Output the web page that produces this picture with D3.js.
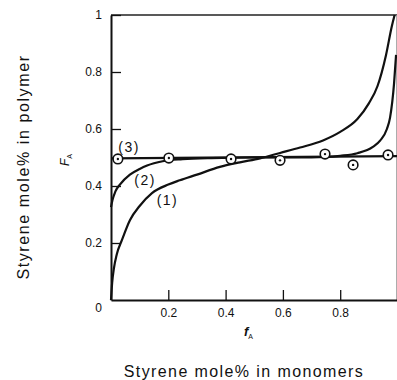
<!DOCTYPE html>
<html>
<head>
<meta charset="utf-8">
<script src="https://cdn.jsdelivr.net/npm/d3@7"></script>
<style>
  html, body { margin: 0; padding: 0; background: #fff; }
  svg text { font-family: "Liberation Sans", Arial, sans-serif; fill: #111; }
</style>
</head>
<body>
<div id="chart"></div>
<script>
// composition curves, [f_A, F_A]
const curve1 = [[0,0],[0.004,0.06],[0.01,0.11],[0.02,0.16],[0.038,0.21],[0.066,0.28],[0.1,0.33],[0.143,0.375],
  [0.2,0.405],[0.24,0.42],[0.3,0.44],[0.38,0.467],[0.45,0.483],[0.52,0.497],[0.59,0.516],[0.66,0.535],
  [0.74,0.56],[0.8,0.59],[0.86,0.635],[0.9,0.69],[0.93,0.75],[0.96,0.86],[0.98,0.96],[0.99,1.0]];
const curve2 = [[0,0.326],[0.005,0.35],[0.015,0.38],[0.031,0.405],[0.066,0.44],[0.1,0.46],[0.126,0.472],
  [0.18,0.487],[0.25,0.494],[0.35,0.498],[0.5,0.5],[0.65,0.5],[0.75,0.502],[0.8,0.506],[0.86,0.515],
  [0.914,0.537],[0.94,0.56],[0.963,0.6],[0.974,0.64],[0.988,0.76],[0.995,0.86]];
const curve3 = [[0,0.497],[1,0.505]];

// measured points
const pointsF = [0.024, 0.202, 0.419, 0.59, 0.747, 0.845, 0.967];
const pointsFA = [0.495, 0.498, 0.495, 0.49, 0.512, 0.474, 0.509];

const curveLabels = ['(3)', '(2)', '(1)'];
const curveLabelPos = [[0.063, 0.537], [0.119, 0.421], [0.197, 0.351]];

const xTicks = [0.2, 0.4, 0.6, 0.8];
const yTicks = [0.2, 0.4, 0.6, 0.8, 1];

const width = 397, height = 380;
const margin = { left: 111, right: 0, top: 15, bottom: 80 };

const svg = d3.select('#chart').append('svg')
  .attr('width', width)
  .attr('height', height);

const x = d3.scaleLinear().domain([0, 1]).range([margin.left, 397.5]);
const y = d3.scaleLinear().domain([0, 1]).range([height - margin.bottom, margin.top]);

// frame
svg.append('line')
  .attr('x1', x(0)).attr('x2', x(1))
  .attr('y1', y(1)).attr('y2', y(1))
  .attr('stroke', '#222').attr('stroke-width', 1.6);
svg.append('line')
  .attr('x1', x(1) - 0.8).attr('x2', x(1) - 0.8)
  .attr('y1', y(1)).attr('y2', y(0))
  .attr('stroke', '#999').attr('stroke-width', 1);

// axes
const xAxis = svg.append('g')
  .attr('transform', `translate(0, ${y(0)})`)
  .call(d3.axisBottom(x).tickValues(xTicks).tickFormat(d3.format('.1f'))
    .tickSizeInner(-10).tickSizeOuter(0).tickPadding(8));
const yAxis = svg.append('g')
  .attr('transform', `translate(${x(0)}, 0)`)
  .call(d3.axisLeft(y).tickValues(yTicks).tickFormat(d => d === 1 ? '1' : d3.format('.1f')(d))
    .tickSizeInner(-10).tickSizeOuter(0).tickPadding(9));

[xAxis, yAxis].forEach(ax => {
  ax.select('.domain').attr('stroke', '#111').attr('stroke-width', 2);
  ax.selectAll('.tick line').attr('stroke', '#111').attr('stroke-width', 1.3);
  ax.selectAll('.tick text').attr('font-size', 12).style('font-family', '"Liberation Sans", Arial, sans-serif').attr('fill', '#111');
});

// origin label
svg.append('text')
  .attr('x', x(0) - 9).attr('y', y(0) + 12)
  .attr('text-anchor', 'end')
  .attr('font-size', 12)
  .text('0');

// curves
const line = d3.line()
  .x(d => x(d[0]))
  .y(d => y(d[1]))
  .curve(d3.curveMonotoneX);

[curve1, curve2, curve3].forEach(c => {
  svg.append('path')
    .datum(c)
    .attr('fill', 'none')
    .attr('stroke', '#111')
    .attr('stroke-width', 2.2)
    .attr('d', line);
});

// points
const pts = pointsF.map((f, i) => [f, pointsFA[i]]);
svg.selectAll('circle.pt')
  .data(pts)
  .enter().append('circle')
  .attr('class', 'pt')
  .attr('cx', d => x(d[0]))
  .attr('cy', d => y(d[1]))
  .attr('r', 4.8)
  .attr('fill', '#fff')
  .attr('stroke', '#111')
  .attr('stroke-width', 1.6);
svg.selectAll('circle.dot')
  .data(pts)
  .enter().append('circle')
  .attr('class', 'dot')
  .attr('cx', d => x(d[0]))
  .attr('cy', d => y(d[1]))
  .attr('r', 1.2)
  .attr('fill', '#111');

// curve labels
svg.selectAll('text.clabel')
  .data(curveLabels)
  .enter().append('text')
  .attr('class', 'clabel')
  .attr('x', (d, i) => x(curveLabelPos[i][0]))
  .attr('y', (d, i) => y(curveLabelPos[i][1]))
  .attr('text-anchor', 'middle')
  .attr('dominant-baseline', 'central')
  .attr('font-size', 14)
  .attr('letter-spacing', 1.5)
  .text(d => d);

// axis symbols
const fLab = svg.append('text')
  .attr('x', 244).attr('y', 336)
  .attr('font-size', 13)
  .attr('font-style', 'italic')
  .attr('font-weight', 'bold');
fLab.append('tspan').text('f');
fLab.append('tspan').attr('font-size', 7).attr('font-weight', 'normal').attr('font-style', 'normal').attr('dy', 3).text('A');

const FLab = svg.append('text')
  .attr('transform', 'translate(69, 166) rotate(-90)')
  .attr('font-size', 12)
  .attr('font-style', 'italic');
FLab.append('tspan').text('F');
FLab.append('tspan').attr('font-size', 7).attr('font-style', 'normal').attr('dy', 3).text('A');

// axis titles
svg.append('text')
  .attr('x', 244).attr('y', 377)
  .attr('text-anchor', 'middle')
  .attr('font-size', 16)
  .attr('letter-spacing', 1.4)
  .text('Styrene mole% in monomers');

svg.append('text')
  .attr('transform', 'translate(29, 167) rotate(-90)')
  .attr('text-anchor', 'middle')
  .attr('font-size', 16)
  .attr('letter-spacing', 1.6)
  .text('Styrene mole% in polymer');
</script>
</body>
</html>
